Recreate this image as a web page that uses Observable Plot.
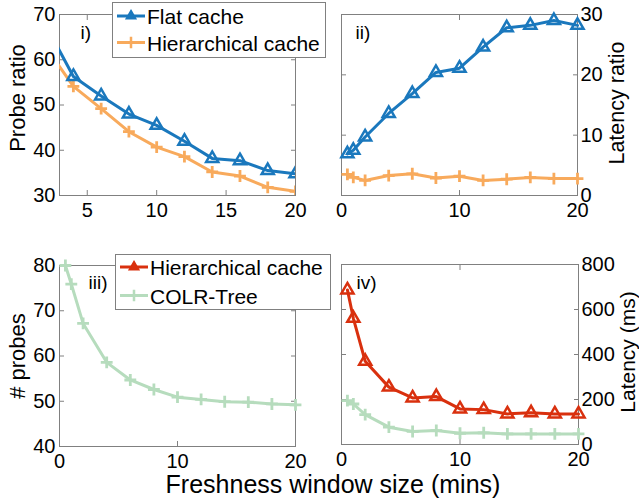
<!DOCTYPE html>
<html><head><meta charset="utf-8">
<script src="https://cdn.jsdelivr.net/npm/d3@7"></script>
<script src="https://cdn.jsdelivr.net/npm/@observablehq/plot@0.6"></script>
<style>
body{margin:0;background:#fff;}
#wrap{position:relative;width:639px;height:503px;overflow:hidden;font-family:"Liberation Sans",Arial,sans-serif;color:#000;}
.panel{position:absolute;}
.ylab{position:absolute;white-space:nowrap;font-size:22px;line-height:1;transform:translate(-50%,-50%) rotate(-90deg);}
.xlab{position:absolute;white-space:nowrap;font-size:25px;line-height:1;transform:translateX(-50%);}
</style>
</head><body><div id="wrap"></div>
<script>
// ---- data ----
const xs = [0.5, 1, 2, 4, 6, 8, 10, 12, 14, 16, 18, 20];
const xsProbe = [2, 4, 6, 8, 10, 12, 14, 16, 18, 20];
const probeRatioFlat = [67.7, 56.3, 52.0, 48.0, 45.5, 42.0, 38.2, 37.7, 35.5, 34.8];
const probeRatioHier = [62.9, 54.1, 49.2, 44.1, 40.7, 38.6, 35.2, 34.3, 31.8, 30.9];
const latencyRatioFlat = [6.9, 7.5, 9.7, 13.6, 16.9, 20.4, 21.1, 24.6, 27.8, 28.2, 29.0, 28.2];
const latencyRatioHier = [3.5, 3.0, 2.5, 3.3, 3.6, 2.9, 3.2, 2.5, 2.7, 3.0, 2.8, 2.8];
const probesColr = [80, 75.9, 67.2, 58.6, 54.7, 52.6, 50.9, 50.4, 49.9, 49.8, 49.4, 49.2];
const latencyHier = [687, 561, 370, 255, 207, 213, 158, 155, 136, 141, 136, 136];
const latencyColr = [195, 180, 133, 77, 58, 62, 50, 52, 47, 47, 47, 47];

const ticksX1 = [5, 10, 15, 20];
const ticksX = [0, 10, 20];
const ticksY1 = [30, 40, 50, 60, 70];
const ticksY2 = [0, 10, 20, 30];
const ticksY3 = [40, 50, 60, 70, 80];
const ticksY4 = [0, 200, 400, 600, 800];

const BLUE = "#1a78bd", ORANGE = "#f8aa5c", RED = "#d9300e", GREEN = "#b6dcbd", FRAME = "#808080";
const FONT = '"Liberation Sans", Arial, sans-serif';

const wrap = document.getElementById("wrap");

function rows(xv, yv) { return xv.map((x, i) => ({x, y: yv[i]})); }

function seriesMarks(data, color, symbol, clip) {
  const r = symbol === "triangle" ? 4.5 : 3.9;
  return [
    Plot.line(data, {x: "x", y: "y", stroke: color, strokeWidth: 3, strokeLinejoin: "round", clip}),
    Plot.dot(data, {x: "x", y: "y", symbol, r, stroke: color, strokeWidth: symbol === "triangle" ? 2.5 : 2.8, fill: "none", clip})
  ];
}

function panel(p) {
  const marks = [
    Plot.frame({stroke: FRAME, strokeWidth: 1}),
    Plot.axisX({ticks: p.xTicks, anchor: "bottom", tickSize: -5, stroke: FRAME, tickFormat: () => "", label: null}),
    Plot.axisX({ticks: p.xTicks, anchor: "top", tickSize: -5, stroke: FRAME, tickFormat: () => "", label: null}),
    Plot.axisY({ticks: p.yTicks, anchor: "left", tickSize: -5, stroke: FRAME, tickFormat: () => "", label: null}),
    Plot.axisY({ticks: p.yTicks, anchor: "right", tickSize: -5, stroke: FRAME, tickFormat: () => "", label: null}),
    Plot.axisX({ticks: p.xTicks, anchor: "bottom", tickSize: 0, tickPadding: 7, label: null, fill: "#000"}),
    Plot.axisY({ticks: p.yTicks, anchor: p.yAnchor, tickSize: 0, tickPadding: p.yAnchor === "left" ? 4 : 3, label: null, fill: "#000"}),
    Plot.text([p.tag], {frameAnchor: "top-left", dx: p.tagDx, dy: p.tagDy, textAnchor: "start", lineAnchor: "middle", fontSize: 19, fill: "#000"}),
    ...p.series
  ];
  const svg = Plot.plot({
    width: p.width, height: p.height,
    marginTop: p.mt, marginRight: p.mr, marginBottom: p.mb, marginLeft: p.ml,
    x: {domain: p.xDomain},
    y: {domain: p.yDomain},
    style: {fontFamily: FONT, fontSize: "20px", color: "#000", background: "none", overflow: "visible"},
    marks
  });
  const d = document.createElement("div");
  d.className = "panel";
  d.style.left = p.left + "px";
  d.style.top = p.top + "px";
  d.appendChild(svg);
  wrap.appendChild(d);
}

// Panel i
panel({left: 0, top: 0, width: 320, height: 230, mt: 14, mr: 25, mb: 35, ml: 59,
  xDomain: [3, 20], yDomain: [30, 70], xTicks: ticksX1, yTicks: ticksY1, yAnchor: "left",
  tag: "i)", tagDx: 21, tagDy: 18.5,
  series: [
    ...seriesMarks(rows(xsProbe, probeRatioHier), ORANGE, "plus", true),
    ...seriesMarks(rows(xsProbe, probeRatioFlat), BLUE, "triangle", true)
  ]});
// Panel ii
panel({left: 320, top: 0, width: 319, height: 230, mt: 14, mr: 62, mb: 35, ml: 21,
  xDomain: [0, 20], yDomain: [0, 30], xTicks: ticksX, yTicks: ticksY2, yAnchor: "right",
  tag: "ii)", tagDx: 14, tagDy: 18.5,
  series: [
    ...seriesMarks(rows(xs, latencyRatioHier), ORANGE, "plus", false),
    ...seriesMarks(rows(xs, latencyRatioFlat), BLUE, "triangle", false)
  ]});
// Panel iii
panel({left: 0, top: 250, width: 320, height: 230, mt: 15, mr: 25, mb: 34, ml: 59,
  xDomain: [0, 20], yDomain: [40, 80], xTicks: ticksX, yTicks: ticksY3, yAnchor: "left",
  tag: "iii)", tagDx: 29, tagDy: 17.5,
  series: [
    ...seriesMarks(rows(xs, probesColr), GREEN, "plus", false)
  ]});
// Panel iv
panel({left: 320, top: 250, width: 319, height: 230, mt: 14, mr: 61, mb: 36, ml: 21,
  xDomain: [0, 20], yDomain: [0, 800], xTicks: ticksX, yTicks: ticksY4, yAnchor: "right",
  tag: "iv)", tagDx: 15, tagDy: 18.5,
  series: [
    ...seriesMarks(rows(xs, latencyColr), GREEN, "plus", false),
    ...seriesMarks(rows(xs, latencyHier), RED, "triangle", false)
  ]});

// Axis titles
function label(cls, text, x, y, size) {
  const d = document.createElement("div");
  d.className = cls;
  d.textContent = text;
  d.style.left = x + "px";
  d.style.top = y + "px";
  if (size) d.style.fontSize = size + "px";
  wrap.appendChild(d);
}
label("ylab", "Probe ratio", 18, 98);
label("ylab", "Latency ratio", 618, 103, 21.5);
label("ylab", "# probes", 18, 356);
label("ylab", "Latency (ms)", 627, 352, 21);
label("xlab", "Freshness window size (mins)", 333, 472);

// Legends
const leg = d3.select(wrap).append("svg")
  .attr("width", 639).attr("height", 503)
  .style("position", "absolute").style("left", 0).style("top", 0)
  .style("pointer-events", "none");

function legend(box, entries) {
  leg.append("rect").attr("x", box.x + 0.5).attr("y", box.y + 0.5).attr("width", box.w).attr("height", box.h)
    .attr("fill", "#fff").attr("stroke", FRAME);
  entries.forEach(e => {
    leg.append("line").attr("x1", box.x + 5).attr("x2", box.x + 33).attr("y1", e.y).attr("y2", e.y)
      .attr("stroke", e.color).attr("stroke-width", 3);
    const sym = e.symbol === "triangle" ? d3.symbolTriangle : d3.symbolPlus;
    const path = leg.append("path").attr("d", d3.symbol(sym, e.symbol === "triangle" ? 40 : 47)())
      .attr("transform", `translate(${box.x + 19},${e.y})`);
    if (e.symbol === "triangle") path.attr("fill", e.color).attr("stroke", e.color).attr("stroke-width", 1.5);
    else path.attr("fill", "none").attr("stroke", e.color).attr("stroke-width", 2.5);
    leg.append("text").attr("x", box.x + 35).attr("y", e.y + 8).text(e.text)
      .attr("font-family", FONT).attr("font-size", 21).attr("fill", "#000");
  });
}
legend({x: 112, y: 2, w: 213, h: 55}, [
  {text: "Flat cache", color: BLUE, symbol: "triangle", y: 16},
  {text: "Hierarchical cache", color: ORANGE, symbol: "plus", y: 42.5}
]);
legend({x: 115, y: 254, w: 215, h: 55}, [
  {text: "Hierarchical cache", color: RED, symbol: "triangle", y: 267},
  {text: "COLR-Tree", color: GREEN, symbol: "plus", y: 295.5}
]);
</script>
</body></html>
